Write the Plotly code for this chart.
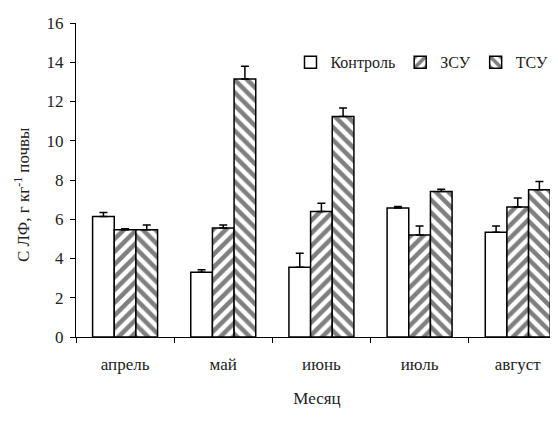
import plotly.graph_objects as go

months = ["апрель", "май", "июнь", "июль", "август"]
series_names = ["Контроль", "ЗСУ", "ТСУ"]
control = [6.14, 3.30, 3.56, 6.57, 5.34]
control_err = [0.20, 0.13, 0.71, 0.08, 0.32]
zsu = [5.46, 5.55, 6.39, 5.20, 6.62]
zsu_err = [0.05, 0.16, 0.43, 0.46, 0.46]
tsu = [5.46, 13.15, 11.24, 7.41, 7.50]
tsu_err = [0.25, 0.64, 0.43, 0.12, 0.42]
y_ticks = [0, 2, 4, 6, 8, 10, 12, 14, 16]
y_title = "С ЛФ, г кг<sup>-1</sup> почвы"
x_title = "Месяц"

FONT = "Liberation Serif, Times New Roman, serif"
TXT = "#222"
values = [control, zsu, tsu]
errors = [control_err, zsu_err, tsu_err]
shapes = ["", "/", "\\"]

fig = go.Figure()
for name, v, e, sh in zip(series_names, values, errors, shapes):
    pattern = dict(shape=sh, fgcolor="black", bgcolor="white", size=9, solidity=0.5) if sh else None
    fig.add_trace(go.Bar(
        name=name, x=months, y=v,
        marker=dict(color="white", line=dict(color="black", width=1.5),
                    pattern=pattern),
        error_y=dict(type="data", array=e, arrayminus=[0] * len(e), symmetric=False,
                     color="black", thickness=1.5, width=4),
    ))

# the page body adds an 8px offset; the figure is sized to compensate
fig.update_layout(
    width=550, height=413,
    margin=dict(l=68, r=0, t=15, b=84),
    paper_bgcolor="white", plot_bgcolor="white",
    barmode="group", bargap=0.338, bargroupgap=0,
    font=dict(family=FONT, size=17, color=TXT),
    showlegend=True,
    legend=dict(orientation="h", x=0.445, y=0.875, xanchor="left", yanchor="middle",
                font=dict(family=FONT, size=16, color=TXT),
                itemwidth=30, bgcolor="rgba(0,0,0,0)", tracegroupgap=0),
    xaxis=dict(range=[-0.5, 4.41], showline=True, linecolor="black", linewidth=1,
               ticks="outside", tickson="boundaries", ticklen=5, tickcolor="black",
               showgrid=False, automargin=False, ticklabelstandoff=12,
               tickfont=dict(family=FONT, size=17, color=TXT),
               title=dict(text=x_title, font=dict(family=FONT, size=17, color=TXT), standoff=18)),
    yaxis=dict(range=[0, 16], tickvals=y_ticks, showline=True, linecolor="black", linewidth=1,
               ticks="outside", ticklen=5, tickcolor="black", showgrid=False, zeroline=False,
               automargin=False, ticklabelstandoff=3,
               tickfont=dict(family=FONT, size=17, color=TXT)),
    annotations=[dict(text=y_title, xref="paper", yref="paper", x=-0.112, y=0.452,
                      xanchor="center", yanchor="middle", textangle=-90, showarrow=False,
                      font=dict(family=FONT, size=17, color=TXT))],
)

fig.write_html("out.html")
